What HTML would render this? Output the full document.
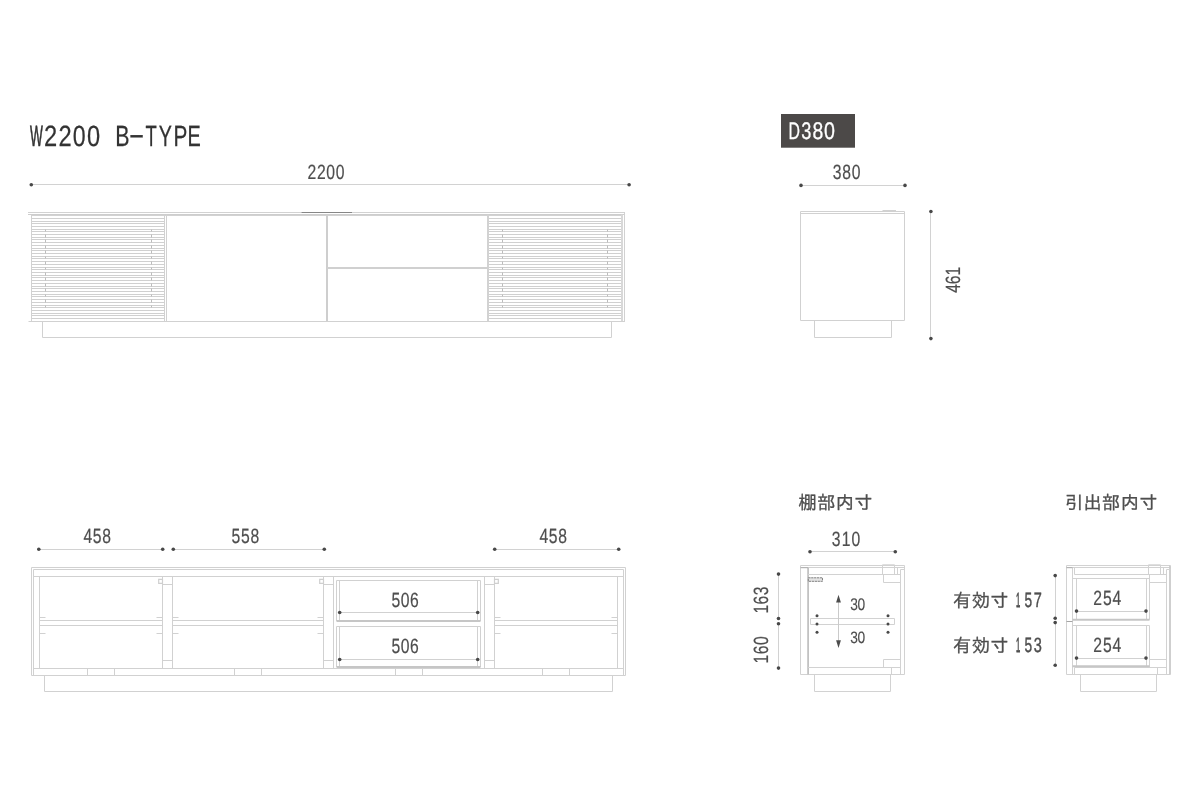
<!DOCTYPE html>
<html lang="ja">
<head>
<meta charset="utf-8">
<title>W2200 B-TYPE</title>
<style>
html,body{margin:0;padding:0;background:#ffffff;}
body{width:1200px;height:800px;overflow:hidden;}
svg{display:block;will-change:transform;}
svg text{font-family:"Liberation Sans", "IPAGothic", sans-serif;text-rendering:geometricPrecision;}
</style>
</head>
<body>
<svg width="1200" height="800" viewBox="0 0 1200 800">
<text y="145.9" font-size="29.3" fill="#333333" stroke="#333333" stroke-width="0.25"><tspan x="30.04" textLength="12.81" lengthAdjust="spacingAndGlyphs" stroke-width="0.7">W</tspan><tspan x="44.01" textLength="13.18" lengthAdjust="spacingAndGlyphs">2</tspan><tspan x="58.41" textLength="13.18" lengthAdjust="spacingAndGlyphs">2</tspan><tspan x="72.85" textLength="12.86" lengthAdjust="spacingAndGlyphs">0</tspan><tspan x="86.98" textLength="13.15" lengthAdjust="spacingAndGlyphs">0</tspan><tspan x="103"> </tspan><tspan x="115.34" textLength="14.29" lengthAdjust="spacingAndGlyphs">B</tspan><tspan x="128.63" textLength="16.23" lengthAdjust="spacingAndGlyphs" dy="-1.6">-</tspan><tspan x="145.58" textLength="11.34" lengthAdjust="spacingAndGlyphs" dy="1.6">T</tspan><tspan x="158.77" textLength="13.17" lengthAdjust="spacingAndGlyphs">Y</tspan><tspan x="173.50" textLength="13.85" lengthAdjust="spacingAndGlyphs">P</tspan><tspan x="187.57" textLength="13.29" lengthAdjust="spacingAndGlyphs">E</tspan></text>
<g class="front">
<path d="M28 212.5H625" stroke="#d2d2d2" stroke-width="1"/>
<path d="M28 214.5H625" stroke="#cdcdcd" stroke-width="1"/>
<path d="M31 215.5H622" stroke="#d2d2d2" stroke-width="1"/>
<path d="M301.6 212.5H352" stroke="#868686" stroke-width="1"/>
<path d="M31.5 218.5H164.5M31.5 221.5H164.5M31.5 223.5H164.5M31.5 226.5H164.5M31.5 229.5H164.5M31.5 231.5H164.5M31.5 234.5H164.5M31.5 237.5H164.5M31.5 239.5H164.5M31.5 242.5H164.5M31.5 245.5H164.5M31.5 248.5H164.5M31.5 250.5H164.5M31.5 253.5H164.5M31.5 256.5H164.5M31.5 258.5H164.5M31.5 261.5H164.5M31.5 264.5H164.5M31.5 267.5H164.5M31.5 269.5H164.5M31.5 272.5H164.5M31.5 275.5H164.5M31.5 277.5H164.5M31.5 280.5H164.5M31.5 283.5H164.5M31.5 286.5H164.5M31.5 288.5H164.5M31.5 291.5H164.5M31.5 294.5H164.5M31.5 296.5H164.5M31.5 299.5H164.5M31.5 302.5H164.5M31.5 305.5H164.5M31.5 307.5H164.5M31.5 310.5H164.5M31.5 313.5H164.5M31.5 315.5H164.5M31.5 318.5H164.5" stroke="#d0d0d0" stroke-width="1"/>
<path d="M488.5 218.5H621.5M488.5 221.5H621.5M488.5 223.5H621.5M488.5 226.5H621.5M488.5 229.5H621.5M488.5 231.5H621.5M488.5 234.5H621.5M488.5 237.5H621.5M488.5 239.5H621.5M488.5 242.5H621.5M488.5 245.5H621.5M488.5 248.5H621.5M488.5 250.5H621.5M488.5 253.5H621.5M488.5 256.5H621.5M488.5 258.5H621.5M488.5 261.5H621.5M488.5 264.5H621.5M488.5 267.5H621.5M488.5 269.5H621.5M488.5 272.5H621.5M488.5 275.5H621.5M488.5 277.5H621.5M488.5 280.5H621.5M488.5 283.5H621.5M488.5 286.5H621.5M488.5 288.5H621.5M488.5 291.5H621.5M488.5 294.5H621.5M488.5 296.5H621.5M488.5 299.5H621.5M488.5 302.5H621.5M488.5 305.5H621.5M488.5 307.5H621.5M488.5 310.5H621.5M488.5 313.5H621.5M488.5 315.5H621.5M488.5 318.5H621.5" stroke="#d0d0d0" stroke-width="1"/>
<path d="M45.5 229.5V231.5M45.5 234.5V237.5M45.5 239.5V242.5M45.5 245.5V248.5M45.5 250.5V253.5M45.5 256.5V258.5M45.5 261.5V264.5M45.5 267.5V269.5M45.5 272.5V275.5M45.5 277.5V280.5M45.5 283.5V286.5M45.5 288.5V291.5M45.5 294.5V296.5M45.5 299.5V302.5M45.5 305.5V307.5" stroke="#bcbcbc" stroke-width="1"/>
<path d="M151.5 229.5V231.5M151.5 234.5V237.5M151.5 239.5V242.5M151.5 245.5V248.5M151.5 250.5V253.5M151.5 256.5V258.5M151.5 261.5V264.5M151.5 267.5V269.5M151.5 272.5V275.5M151.5 277.5V280.5M151.5 283.5V286.5M151.5 288.5V291.5M151.5 294.5V296.5M151.5 299.5V302.5M151.5 305.5V307.5" stroke="#bcbcbc" stroke-width="1"/>
<path d="M502.5 229.5V231.5M502.5 234.5V237.5M502.5 239.5V242.5M502.5 245.5V248.5M502.5 250.5V253.5M502.5 256.5V258.5M502.5 261.5V264.5M502.5 267.5V269.5M502.5 272.5V275.5M502.5 277.5V280.5M502.5 283.5V286.5M502.5 288.5V291.5M502.5 294.5V296.5M502.5 299.5V302.5M502.5 305.5V307.5" stroke="#bcbcbc" stroke-width="1"/>
<path d="M607.5 229.5V231.5M607.5 234.5V237.5M607.5 239.5V242.5M607.5 245.5V248.5M607.5 250.5V253.5M607.5 256.5V258.5M607.5 261.5V264.5M607.5 267.5V269.5M607.5 272.5V275.5M607.5 277.5V280.5M607.5 283.5V286.5M607.5 288.5V291.5M607.5 294.5V296.5M607.5 299.5V302.5M607.5 305.5V307.5" stroke="#bcbcbc" stroke-width="1"/>
<path d="M31.5 214.5V321.5" stroke="#d1d1d1" stroke-width="1"/>
<path d="M164.5 214.5V321.5" stroke="#d1d1d1" stroke-width="1"/>
<path d="M166.5 214.5V321.5" stroke="#d1d1d1" stroke-width="1"/>
<path d="M327 214.5V321.5" stroke="#cecece" stroke-width="2"/>
<path d="M488 214.5V321.5" stroke="#d2d2d2" stroke-width="2"/>
<path d="M327 268H488" stroke="#d0d0d0" stroke-width="2"/>
<path d="M622 214.5V321.5" stroke="#d8d8d8" stroke-width="2"/>
<path d="M624.5 212.5V321.5" stroke="#d1d1d1" stroke-width="1"/>
<path d="M28.5 321.5H625" stroke="#d1d1d1" stroke-width="1"/>
<path d="M42.5 321.5V337.5H611.5V321.5" stroke="#d1d1d1" fill="none"/>
</g>
<g class="dim">
<path d="M31 184.5H629.5" stroke="#d2d2d2" stroke-width="1"/>
<circle cx="31.3" cy="184.7" r="1.8" fill="#484848"/>
<circle cx="629.1" cy="184.75" r="1.8" fill="#484848"/>
<text transform="translate(307.56 178.8) scale(0.762 1)" font-size="20.6" letter-spacing="0.87" fill="#4e4e4e" stroke="#4e4e4e" stroke-width="0.2">2200</text>
</g>
<rect x="781" y="114" width="74" height="33.7" fill="#4c4948"/>
<text y="139.15" font-size="24.0" fill="#ffffff" stroke="#ffffff" stroke-width="0.3"><tspan x="788.60" textLength="11.46" lengthAdjust="spacingAndGlyphs">D</tspan><tspan x="801.21" textLength="10.09" lengthAdjust="spacingAndGlyphs">3</tspan><tspan x="812.56" textLength="10.79" lengthAdjust="spacingAndGlyphs">8</tspan><tspan x="823.93" textLength="10.94" lengthAdjust="spacingAndGlyphs">0</tspan></text>
<path d="M801 185.5H905" stroke="#d2d2d2" stroke-width="1"/>
<circle cx="801" cy="185.4" r="1.8" fill="#484848"/>
<circle cx="905" cy="185.4" r="1.8" fill="#484848"/>
<text transform="translate(832.85 178.9) scale(0.762 1)" font-size="20.6" letter-spacing="0.93" fill="#4e4e4e" stroke="#4e4e4e" stroke-width="0.2">380</text>
<g class="side">
<path d="M800.5 211.5H904.5V320.5H800.5Z" stroke="#d1d1d1" stroke-width="1" fill="none"/>
<path d="M800.5 213.5H904.5" stroke="#d1d1d1" stroke-width="1"/>
<path d="M882.5 210.5H896" stroke="#d1d1d1" stroke-width="1"/>
<path d="M814.5 320.5V337.5H891.5V320.5" stroke="#d1d1d1" fill="none"/>
</g>
<path d="M930.5 211.6V338.6" stroke="#d2d2d2" stroke-width="1"/>
<circle cx="930.9" cy="211.5" r="1.8" fill="#484848"/>
<circle cx="930.9" cy="338.6" r="1.8" fill="#484848"/>
<text transform="translate(960.0 292.71) rotate(-90) scale(0.762 1)" font-size="20.6" letter-spacing="-0.24" fill="#4e4e4e" stroke="#4e4e4e" stroke-width="0.2">461</text>
<g class="inner">
<path d="M31.5 567.5H625.5V675.5H31.5Z" stroke="#d1d1d1" stroke-width="1" fill="none"/>
<path d="M33.5 675.5V569.5H623.5V675.5" stroke="#d1d1d1" fill="none"/>
<path d="M33.5 576.5H623.5" stroke="#d1d1d1" stroke-width="1"/>
<path d="M33.5 668.5H623.5" stroke="#d1d1d1" stroke-width="1"/>
<path d="M39.5 576.5V668.5" stroke="#d1d1d1" stroke-width="1"/>
<path d="M617.5 576.5V668.5" stroke="#d1d1d1" stroke-width="1"/>
<path d="M162.5 576.5V668.5" stroke="#d1d1d1" stroke-width="1"/>
<path d="M172.5 576.5V668.5" stroke="#d1d1d1" stroke-width="1"/>
<path d="M162.5 584.5H172.5" stroke="#d1d1d1" stroke-width="1"/>
<path d="M162.5 660.5H172.5" stroke="#d1d1d1" stroke-width="1"/>
<path d="M323.5 576.5V668.5" stroke="#d1d1d1" stroke-width="1"/>
<path d="M333.5 576.5V668.5" stroke="#d1d1d1" stroke-width="1"/>
<path d="M323.5 584.5H333.5" stroke="#d1d1d1" stroke-width="1"/>
<path d="M323.5 660.5H333.5" stroke="#d1d1d1" stroke-width="1"/>
<path d="M484.5 576.5V668.5" stroke="#d1d1d1" stroke-width="1"/>
<path d="M494.5 576.5V668.5" stroke="#d1d1d1" stroke-width="1"/>
<path d="M484.5 584.5H494.5" stroke="#d1d1d1" stroke-width="1"/>
<path d="M484.5 660.5H494.5" stroke="#d1d1d1" stroke-width="1"/>
<path d="M39.5 620.5H162.5" stroke="#d1d1d1" stroke-width="1"/>
<path d="M39.5 625.5H162.5" stroke="#d1d1d1" stroke-width="1"/>
<path d="M39.5 617.5H45.5" stroke="#d1d1d1" stroke-width="1"/>
<path d="M156.5 617.5H162.5" stroke="#d1d1d1" stroke-width="1"/>
<path d="M39.5 633.5H45.5" stroke="#d1d1d1" stroke-width="1"/>
<path d="M156.5 633.5H162.5" stroke="#d1d1d1" stroke-width="1"/>
<path d="M172.5 620.5H323.5" stroke="#d1d1d1" stroke-width="1"/>
<path d="M172.5 625.5H323.5" stroke="#d1d1d1" stroke-width="1"/>
<path d="M172.5 617.5H178.5" stroke="#d1d1d1" stroke-width="1"/>
<path d="M317.5 617.5H323.5" stroke="#d1d1d1" stroke-width="1"/>
<path d="M172.5 633.5H178.5" stroke="#d1d1d1" stroke-width="1"/>
<path d="M317.5 633.5H323.5" stroke="#d1d1d1" stroke-width="1"/>
<path d="M494.5 620.5H617.5" stroke="#d1d1d1" stroke-width="1"/>
<path d="M494.5 625.5H617.5" stroke="#d1d1d1" stroke-width="1"/>
<path d="M494.5 617.5H500.5" stroke="#d1d1d1" stroke-width="1"/>
<path d="M611.5 617.5H617.5" stroke="#d1d1d1" stroke-width="1"/>
<path d="M494.5 633.5H500.5" stroke="#d1d1d1" stroke-width="1"/>
<path d="M611.5 633.5H617.5" stroke="#d1d1d1" stroke-width="1"/>
<path d="M158.7 579.4H162.5V583.4H158.7Z" stroke="#cfcfcf" stroke-width="1.2" fill="none"/>
<path d="M319.7 579.4H323.5V583.4H319.7Z" stroke="#cfcfcf" stroke-width="1.2" fill="none"/>
<path d="M494.5 579.4H498.3V583.4H494.5Z" stroke="#cfcfcf" stroke-width="1.2" fill="none"/>
<path d="M336.5 580.5H480.5" stroke="#d1d1d1" stroke-width="1"/>
<path d="M336.5 580.5V621" stroke="#d1d1d1" stroke-width="1"/>
<path d="M339.5 580.5V621" stroke="#d1d1d1" stroke-width="1"/>
<path d="M477.5 580.5V621" stroke="#d1d1d1" stroke-width="1"/>
<path d="M480.5 580.5V621" stroke="#d1d1d1" stroke-width="1"/>
<path d="M336.5 621H480.5" stroke="#c6c6c6" stroke-width="2"/>
<path d="M336.5 626.5H480.5" stroke="#d1d1d1" stroke-width="1"/>
<path d="M336.5 626.5V667" stroke="#d1d1d1" stroke-width="1"/>
<path d="M339.5 626.5V667" stroke="#d1d1d1" stroke-width="1"/>
<path d="M477.5 626.5V667" stroke="#d1d1d1" stroke-width="1"/>
<path d="M480.5 626.5V667" stroke="#d1d1d1" stroke-width="1"/>
<path d="M336.5 667H480.5" stroke="#c6c6c6" stroke-width="2"/>
<path d="M87.5 668.5V675.5" stroke="#d1d1d1" stroke-width="1"/>
<path d="M114.5 668.5V675.5" stroke="#d1d1d1" stroke-width="1"/>
<path d="M234.5 668.5V675.5" stroke="#d1d1d1" stroke-width="1"/>
<path d="M261.5 668.5V675.5" stroke="#d1d1d1" stroke-width="1"/>
<path d="M395.5 668.5V675.5" stroke="#d1d1d1" stroke-width="1"/>
<path d="M422.5 668.5V675.5" stroke="#d1d1d1" stroke-width="1"/>
<path d="M542.5 668.5V675.5" stroke="#d1d1d1" stroke-width="1"/>
<path d="M569.5 668.5V675.5" stroke="#d1d1d1" stroke-width="1"/>
<path d="M44.5 675.5V691.5H612.5V675.5" stroke="#d1d1d1" fill="none"/>
</g>
<path d="M339.7 612.5H477.7" stroke="#d1d1d1" stroke-width="1"/>
<circle cx="339.7" cy="612.5" r="1.8" fill="#484848"/>
<circle cx="477.7" cy="612.5" r="1.8" fill="#484848"/>
<text transform="translate(391.42 606.5) scale(0.762 1)" font-size="20.6" letter-spacing="0.67" fill="#4e4e4e" stroke="#4e4e4e" stroke-width="0.2">506</text>
<path d="M339.7 659.5H477.7" stroke="#d1d1d1" stroke-width="1"/>
<circle cx="339.7" cy="659.5" r="1.8" fill="#484848"/>
<circle cx="477.7" cy="659.5" r="1.8" fill="#484848"/>
<text transform="translate(391.42 652.75) scale(0.762 1)" font-size="20.6" letter-spacing="0.67" fill="#4e4e4e" stroke="#4e4e4e" stroke-width="0.2">506</text>
<path d="M38.8 549.5H162.7" stroke="#d2d2d2" stroke-width="1"/>
<circle cx="38.8" cy="549.3" r="1.8" fill="#484848"/>
<circle cx="162.7" cy="549.3" r="1.8" fill="#484848"/>
<text transform="translate(83.39 542.75) scale(0.762 1)" font-size="20.6" letter-spacing="0.89" fill="#4e4e4e" stroke="#4e4e4e" stroke-width="0.2">458</text>
<path d="M173.3 549.5H324.3" stroke="#d2d2d2" stroke-width="1"/>
<circle cx="173.3" cy="549.3" r="1.8" fill="#484848"/>
<circle cx="324.3" cy="549.3" r="1.8" fill="#484848"/>
<text transform="translate(231.57 542.75) scale(0.762 1)" font-size="20.6" letter-spacing="0.96" fill="#4e4e4e" stroke="#4e4e4e" stroke-width="0.2">558</text>
<path d="M494.7 549.5H618.7" stroke="#d2d2d2" stroke-width="1"/>
<circle cx="494.7" cy="549.3" r="1.8" fill="#484848"/>
<circle cx="618.7" cy="549.3" r="1.8" fill="#484848"/>
<text transform="translate(539.39 542.75) scale(0.762 1)" font-size="20.6" letter-spacing="0.89" fill="#4e4e4e" stroke="#4e4e4e" stroke-width="0.2">458</text>
<g class="section">
<path d="M800.5 565.5H904.5" stroke="#d2d2d2" stroke-width="1"/>
<path d="M800.5 567.5H904.5" stroke="#d2d2d2" stroke-width="1"/>
<path d="M800.5 565.5V674.5" stroke="#d2d2d2" stroke-width="1"/>
<path d="M800.5 674.5H904.5" stroke="#d2d2d2" stroke-width="1"/>
<path d="M904.5 565.5V674.5" stroke="#d2d2d2" stroke-width="1"/>
<path d="M900.5 569.5V674.5" stroke="#d2d2d2" stroke-width="1"/>
<path d="M900.5 569.5H904.5" stroke="#d2d2d2" stroke-width="1"/>
<path d="M882.5 564.8H894.5V574.5H882.5Z" stroke="#d2d2d2" stroke-width="1" fill="none"/>
<path d="M897.5 567.5V574.5" stroke="#d2d2d2" stroke-width="1"/>
<path d="M883.5 574.5V582.5H900.5" stroke="#d2d2d2" fill="none"/>
<path d="M883.5 667.5V659.5H900.5" stroke="#d2d2d2" fill="none"/>
<path d="M814.5 674.5V691.5H890.5V674.5" stroke="#d2d2d2" fill="none"/>
<path d="M891.5 667.5V674.5" stroke="#d2d2d2" stroke-width="1"/>
<path d="M808.1 567.5V674.5" stroke="#c2c2c2" stroke-width="1.8"/>
<path d="M800.5 567.6H808" stroke="#b4b4b4" stroke-width="1.2"/>
<path d="M808 574.5H900.5" stroke="#d2d2d2" stroke-width="1"/>
<path d="M808 667.5H900.5" stroke="#d2d2d2" stroke-width="1"/>
<rect x="808.3" y="577.8" width="14.2" height="3.5" fill="#e4e4e4" stroke="#808080" stroke-width="1" stroke-dasharray="2.3 0.6"/>
<path d="M810.5 618.5H894.5V624.5H810.5Z" stroke="#d2d2d2" stroke-width="1" fill="none"/>
</g>
<g class="section">
<path d="M1066.5 565.5H1170.5" stroke="#d2d2d2" stroke-width="1"/>
<path d="M1066.5 567.5H1170.5" stroke="#d2d2d2" stroke-width="1"/>
<path d="M1066.5 565.5V674.5" stroke="#d2d2d2" stroke-width="1"/>
<path d="M1066.5 674.5H1170.5" stroke="#d2d2d2" stroke-width="1"/>
<path d="M1170 565.5V674.5" stroke="#cacaca" stroke-width="1.8"/>
<path d="M1166.5 569.5V674.5" stroke="#d2d2d2" stroke-width="1"/>
<path d="M1166.5 569.5H1170.5" stroke="#d2d2d2" stroke-width="1"/>
<path d="M1148.5 564.8H1160.5V574.5H1148.5Z" stroke="#d2d2d2" stroke-width="1" fill="none"/>
<path d="M1163.5 567.5V574.5" stroke="#d2d2d2" stroke-width="1"/>
<path d="M1149.5 574.5V582.5H1166.5" stroke="#d2d2d2" fill="none"/>
<path d="M1149.5 667.5V659.5H1166.5" stroke="#d2d2d2" fill="none"/>
<path d="M1080.5 674.5V691.5H1156.5V674.5" stroke="#d2d2d2" fill="none"/>
<path d="M1157.5 667.5V674.5" stroke="#d2d2d2" stroke-width="1"/>
<path d="M1072.5 567.5V674.5" stroke="#d2d2d2" stroke-width="1"/>
<path d="M1066.5 567.6H1072.5" stroke="#b4b4b4" stroke-width="1.2"/>
<path d="M1074.5 567.5V574.5" stroke="#d2d2d2" stroke-width="1"/>
<path d="M1074.5 667.5V674.5" stroke="#d2d2d2" stroke-width="1"/>
<path d="M1074.5 574.5H1166.5" stroke="#d2d2d2" stroke-width="1"/>
<path d="M1074.5 667.5H1166.5" stroke="#d2d2d2" stroke-width="1"/>
<path d="M1066.5 621.5H1072.5" stroke="#a6a6a6" stroke-width="1"/>
<path d="M1072.5 578.5H1149.5" stroke="#d2d2d2" stroke-width="1"/>
<path d="M1076.5 578.5V619.8" stroke="#d2d2d2" stroke-width="1"/>
<path d="M1146.5 578.5V619.8" stroke="#d2d2d2" stroke-width="1"/>
<path d="M1149.5 578.5V619.8" stroke="#d2d2d2" stroke-width="1"/>
<path d="M1072.5 619.8H1149.5" stroke="#c6c6c6" stroke-width="2"/>
<path d="M1072.5 625.5H1149.5" stroke="#d2d2d2" stroke-width="1"/>
<path d="M1076.5 625.5V666.3" stroke="#d2d2d2" stroke-width="1"/>
<path d="M1146.5 625.5V666.3" stroke="#d2d2d2" stroke-width="1"/>
<path d="M1149.5 625.5V666.3" stroke="#d2d2d2" stroke-width="1"/>
<path d="M1072.5 666.3H1149.5" stroke="#c6c6c6" stroke-width="2"/>
</g>
<path d="M838.5 599V644" stroke="#cacaca" stroke-width="1"/>
<path d="M838.5 594.8L836.1 602.5H840.9Z" fill="#4c4c4c"/>
<path d="M838.5 648.0L836.1 640.3H840.9Z" fill="#4c4c4c"/>
<circle cx="817" cy="615.7" r="1.5" fill="#484848"/>
<circle cx="817" cy="624" r="1.5" fill="#484848"/>
<circle cx="817" cy="632.3" r="1.5" fill="#484848"/>
<circle cx="888" cy="615.7" r="1.5" fill="#484848"/>
<circle cx="888" cy="624" r="1.5" fill="#484848"/>
<circle cx="888" cy="632.3" r="1.5" fill="#484848"/>
<text transform="translate(850.13 610.45) scale(0.82 1)" font-size="16.8" letter-spacing="-0.32" fill="#4e4e4e" stroke="#4e4e4e" stroke-width="0.15">30</text>
<text transform="translate(850.13 642.6) scale(0.835 1)" font-size="16.5" letter-spacing="-0.31" fill="#4e4e4e" stroke="#4e4e4e" stroke-width="0.15">30</text>
<path d="M810 551.5H895.3" stroke="#d2d2d2" stroke-width="1"/>
<circle cx="810" cy="551.7" r="1.8" fill="#484848"/>
<circle cx="895.3" cy="551.7" r="1.8" fill="#484848"/>
<text transform="translate(831.85 545.5) scale(0.762 1)" font-size="20.6" letter-spacing="1.39" fill="#4e4e4e" stroke="#4e4e4e" stroke-width="0.2">310</text>
<path d="M778.5 574V618.5" stroke="#d2d2d2" stroke-width="1"/>
<path d="M778.5 623.7V668" stroke="#d2d2d2" stroke-width="1"/>
<circle cx="778.5" cy="574.1" r="1.8" fill="#484848"/>
<circle cx="778.5" cy="618.5" r="1.8" fill="#484848"/>
<circle cx="778.5" cy="623.7" r="1.8" fill="#484848"/>
<circle cx="778.5" cy="668.1" r="1.8" fill="#484848"/>
<text transform="translate(768 613.55) rotate(-90) scale(0.762 1)" font-size="20.6" letter-spacing="0.52" fill="#4e4e4e" stroke="#4e4e4e" stroke-width="0.2">163</text>
<text transform="translate(768 663.55) rotate(-90) scale(0.762 1)" font-size="20.6" letter-spacing="0.73" fill="#4e4e4e" stroke="#4e4e4e" stroke-width="0.2">160</text>
<path d="M1055.5 575.6V618.3" stroke="#d2d2d2" stroke-width="1"/>
<path d="M1055.5 622.6V665.3" stroke="#d2d2d2" stroke-width="1"/>
<circle cx="1055.2" cy="575.6" r="1.8" fill="#484848"/>
<circle cx="1055.2" cy="618.3" r="1.8" fill="#484848"/>
<circle cx="1055.2" cy="622.6" r="1.8" fill="#484848"/>
<circle cx="1055.2" cy="665.3" r="1.8" fill="#484848"/>
<path d="M1076.5 611.5H1146" stroke="#d1d1d1" stroke-width="1"/>
<circle cx="1076.5" cy="611.1" r="1.8" fill="#484848"/>
<circle cx="1146" cy="611.1" r="1.8" fill="#484848"/>
<text transform="translate(1093.36 604.9) scale(0.762 1)" font-size="20.6" letter-spacing="1.15" fill="#4e4e4e" stroke="#4e4e4e" stroke-width="0.2">254</text>
<path d="M1076.5 658.5H1146" stroke="#d1d1d1" stroke-width="1"/>
<circle cx="1076.5" cy="658.1" r="1.8" fill="#484848"/>
<circle cx="1146" cy="658.1" r="1.8" fill="#484848"/>
<text transform="translate(1093.36 652.3) scale(0.762 1)" font-size="20.6" letter-spacing="1.15" fill="#4e4e4e" stroke="#4e4e4e" stroke-width="0.2">254</text>
<text x="798.6" y="509.1" font-size="18.3" fill="#4e4e4e" stroke="#4e4e4e" stroke-width="0.3" letter-spacing="0.3">棚部内寸</text>
<text x="1064.9" y="509.1" font-size="18.3" fill="#4e4e4e" stroke="#4e4e4e" stroke-width="0.3" letter-spacing="0.3">引出部内寸</text>
<text font-size="20.6" fill="#4e4e4e" stroke="#4e4e4e" stroke-width="0.45"><tspan x="953.1" y="606.7" font-size="18.3" letter-spacing="0.3" stroke-width="0.3">有効寸</tspan><tspan font-size="18.3"> </tspan><tspan x="1016.02" y="606.8" textLength="4.26" lengthAdjust="spacingAndGlyphs" stroke-width="0.8">1</tspan><tspan x="1024.45" textLength="7.62" lengthAdjust="spacingAndGlyphs">5</tspan><tspan x="1033.86" textLength="8.07" lengthAdjust="spacingAndGlyphs">7</tspan></text>
<text font-size="20.6" fill="#4e4e4e" stroke="#4e4e4e" stroke-width="0.45"><tspan x="953.1" y="651.7" font-size="18.3" letter-spacing="0.3" stroke-width="0.3">有効寸</tspan><tspan font-size="18.3"> </tspan><tspan x="1016.02" y="651.8" textLength="4.26" lengthAdjust="spacingAndGlyphs" stroke-width="0.8">1</tspan><tspan x="1024.45" textLength="7.62" lengthAdjust="spacingAndGlyphs">5</tspan><tspan x="1033.85" textLength="8.09" lengthAdjust="spacingAndGlyphs">3</tspan></text>
</svg>
</body>
</html>
